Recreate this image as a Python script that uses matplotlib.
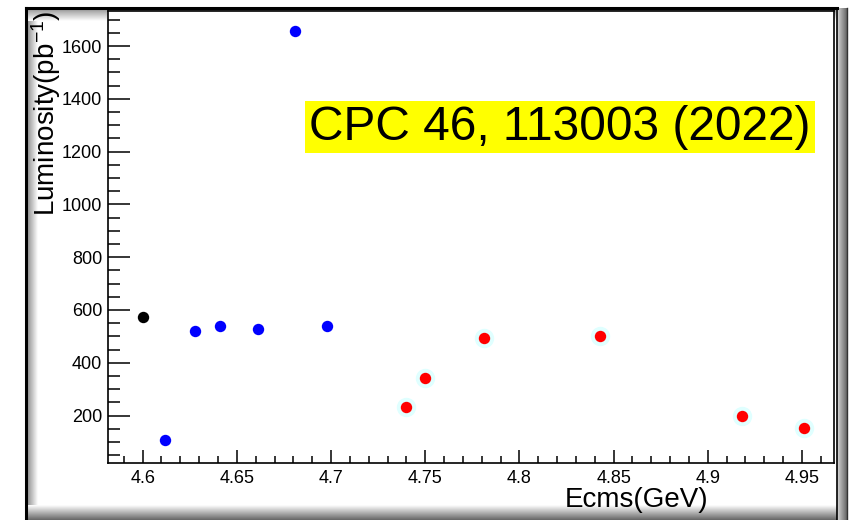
import matplotlib.pyplot as plt
import numpy as np
from matplotlib.ticker import MultipleLocator

plt.rcParams['font.family'] = ['Liberation Sans', 'DejaVu Sans']
plt.rcParams['mathtext.fontset'] = 'custom'
plt.rcParams['mathtext.rm'] = 'Liberation Sans'
plt.rcParams['mathtext.default'] = 'regular'

# data points
black_x = [4.600]
black_y = [574]
blue_x = [4.612, 4.628, 4.641, 4.661, 4.681, 4.698]
blue_y = [107, 521, 538, 528, 1656, 538]
red_x = [4.740, 4.750, 4.781, 4.843, 4.918, 4.951]
red_y = [234, 343, 495, 500, 200, 154]

W, H = 849, 520
fig = plt.figure(figsize=(W / 100, H / 100), dpi=100)
fig.patch.set_facecolor('white')

# --- canvas frame with ROOT-like bevel ---
bg = fig.add_axes([0, 0, 1, 1], zorder=-1)
bg.set_xlim(0, W)
bg.set_ylim(H, 0)
bg.axis('off')


def band(x0, x1, y0, y1, g0, g1, horizontal):
    n = 64
    ramp = np.linspace(g0, g1, n)
    img = ramp[None, :] if horizontal else ramp[:, None]
    bg.imshow(img, cmap='gray', vmin=0, vmax=1, extent=(x0, x1, y1, y0),
              aspect='auto', interpolation='bilinear', zorder=1)


band(27, 38, 9, 512, 0.55, 1.0, True)    # left
band(27, 836, 9, 21, 0.6, 1.0, False)  # top
band(27, 837, 505, 520, 1.0, 0.4, False)  # bottom
band(837, 848, 8, 520, 0.85, 0.35, True)   # right
bg.plot([26, 26], [8, 520], color='black', lw=2.2, zorder=2)
bg.plot([26, 837], [8, 8], color='black', lw=2.2, zorder=2)
bg.plot([837, 837], [8, 520], color='black', lw=1.2, zorder=2)
bg.plot([847.5, 847.5], [8, 520], color='#333333', lw=1.0, zorder=2)
bg.set_xlim(0, W)
bg.set_ylim(H, 0)

# --- main plot ---
ax = fig.add_axes([108 / W, (H - 463) / H, (834 - 108) / W, (463 - 11) / H])
ax.set_facecolor('white')

ax.plot(red_x, red_y, 'o', color='#e0ffff', ms=14, mec='none', zorder=2)
ax.plot(red_x, red_y, 'o', color='#ff0000', ms=8.2, mec='none', zorder=3)
ax.plot(blue_x, blue_y, 'o', color='#0000ff', ms=8.2, mec='none', zorder=3)
ax.plot(black_x, black_y, 'o', color='black', ms=8.2, mec='none', zorder=3)

ax.set_xlim(4.5816, 4.967)
ax.set_ylim(20, 1733)

ax.xaxis.set_major_locator(MultipleLocator(0.05))
ax.xaxis.set_minor_locator(MultipleLocator(0.01))
ax.yaxis.set_major_locator(MultipleLocator(200))
ax.yaxis.set_minor_locator(MultipleLocator(50))
ax.set_xticks([4.6, 4.65, 4.7, 4.75, 4.8, 4.85, 4.9, 4.95])
ax.set_xticklabels(['4.6', '4.65', '4.7', '4.75', '4.8', '4.85', '4.9', '4.95'])
ax.set_yticks([200, 400, 600, 800, 1000, 1200, 1400, 1600])

ax.tick_params(axis='both', which='both', direction='in', top=False, right=False,
               labelsize=13, width=1.1, color='black')
ax.tick_params(axis='y', which='major', length=15.8, pad=4.3)
ax.tick_params(axis='y', which='minor', length=8.6)
ax.tick_params(axis='x', which='major', length=9.4, pad=5)
ax.tick_params(axis='x', which='minor', length=4.7)
for s in ax.spines.values():
    s.set_linewidth(1.2)

fig.text(46 / W, 1 - 10 / H, 'Luminosity(pb$^{-1}$)', rotation=90,
         ha='center', va='top', fontsize=20)
fig.text(708 / W, 1 - 500 / H, 'Ecms(GeV)', ha='right', va='center', fontsize=20)

fig.text(560 / W, 1 - 127 / H, 'CPC 46, 113003 (2022)', ha='center', va='center',
         fontsize=34.5, color='black',
         bbox=dict(boxstyle='square,pad=0.08', facecolor='#ffff00', edgecolor='none'))

fig.savefig('out.png', dpi=100)
